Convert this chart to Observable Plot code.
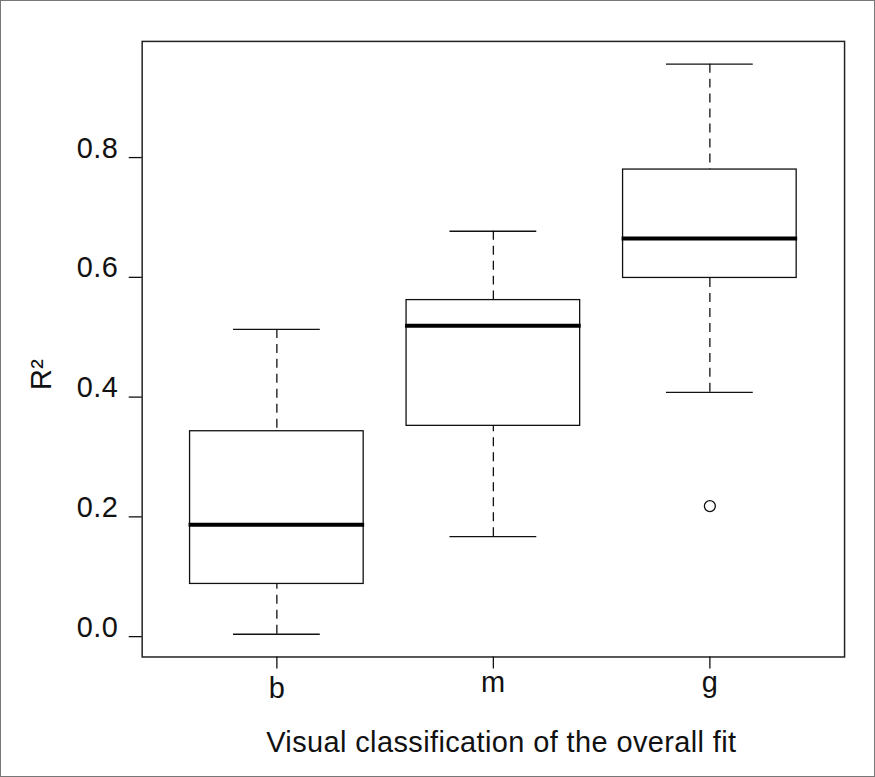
<!DOCTYPE html>
<html>
<head>
<meta charset="utf-8">
<script src="https://cdn.jsdelivr.net/npm/d3@7"></script>
<script src="https://cdn.jsdelivr.net/npm/@observablehq/plot@0.6"></script>
<style>
  html, body { margin: 0; padding: 0; background: #fff; }
  #wrap { position: relative; width: 875px; height: 777px; box-sizing: border-box; border: 1px solid #777; background: #fff; }
  #wrap svg { position: absolute; top: -1px; left: -1px; }
</style>
</head>
<body>
<div id="wrap"></div>
<script>
// ---- data ----
const categories   = ["b", "m", "g"];
const whiskerLow   = [0.004, 0.167, 0.408];
const quartile1    = [0.088, 0.352, 0.599];
const medians      = [0.187, 0.519, 0.665];
const quartile3    = [0.343, 0.562, 0.780];
const whiskerHigh  = [0.513, 0.677, 0.956];
const outlierCats  = ["g"];
const outlierVals  = [0.218];
const yTicks       = [0.0, 0.2, 0.4, 0.6, 0.8];
const xTitle = "Visual classification of the overall fit";
const yTitle = "R²";

const boxes = categories.map((c, i) => ({
  cat: c, lo: whiskerLow[i], q1: quartile1[i], med: medians[i], q3: quartile3[i], hi: whiskerHigh[i]
}));
const outliers = outlierCats.map((c, i) => ({cat: c, value: outlierVals[i]}));

const ink = "#111";
const lw = 1.3;
const fs = 29;

const chart = Plot.plot({
  width: 875,
  height: 777,
  marginLeft: 142,
  marginRight: 29,
  marginTop: 41,
  marginBottom: 119,
  style: {fontFamily: "'Liberation Sans', Arial, Helvetica, sans-serif", fontSize: fs + "px", color: ink, background: "transparent", letterSpacing: "0.4px"},
  x: {type: "band", domain: categories, paddingInner: 0.2, paddingOuter: 0.22},
  y: {domain: [-0.034, 0.994]},
  marks: [
    Plot.frame({stroke: "#222", strokeWidth: 1.5}),
    Plot.ruleX(boxes, {x: "cat", y1: "hi", y2: "q3", stroke: ink, strokeWidth: lw, strokeDasharray: "9,6"}),
    Plot.ruleX(boxes, {x: "cat", y1: "lo", y2: "q1", stroke: ink, strokeWidth: lw, strokeDasharray: "9,6"}),
    Plot.tickY(boxes, {x: "cat", y: "hi", insetLeft: 43.5, insetRight: 43.5, stroke: ink, strokeWidth: lw}),
    Plot.tickY(boxes, {x: "cat", y: "lo", insetLeft: 43.5, insetRight: 43.5, stroke: ink, strokeWidth: lw}),
    Plot.barY(boxes, {x: "cat", y1: "q1", y2: "q3", fill: "white", stroke: ink, strokeWidth: lw}),
    Plot.tickY(boxes, {x: "cat", y: "med", insetLeft: -1, insetRight: -1, stroke: "#000", strokeWidth: 4}),
    Plot.dot(outliers, {x: "cat", y: "value", r: 5.5, stroke: ink, strokeWidth: lw, fill: "none"}),
    Plot.axisY(yTicks, {tickSize: 13, tickPadding: 11, fontSize: fs, lineAnchor: "bottom", tickFormat: d3.format(".1f"), label: null, strokeWidth: lw}),
    Plot.axisX(["b"], {tickSize: 12, tickPadding: 9, fontSize: fs, label: null, strokeWidth: lw}),
    Plot.axisX(["m", "g"], {tickSize: 12, tickPadding: 2, fontSize: fs, label: null, strokeWidth: lw}),
    Plot.text([xTitle], {text: d => d, frameAnchor: "bottom", dx: 8, dy: 86, fontSize: fs, lineAnchor: "middle", fill: ink}),
    Plot.text([yTitle], {text: d => d, frameAnchor: "left", rotate: -90, dx: -101, dy: 41, fontSize: fs, lineAnchor: "middle", fill: ink})
  ]
});
document.getElementById("wrap").appendChild(chart);
</script>
</body>
</html>
